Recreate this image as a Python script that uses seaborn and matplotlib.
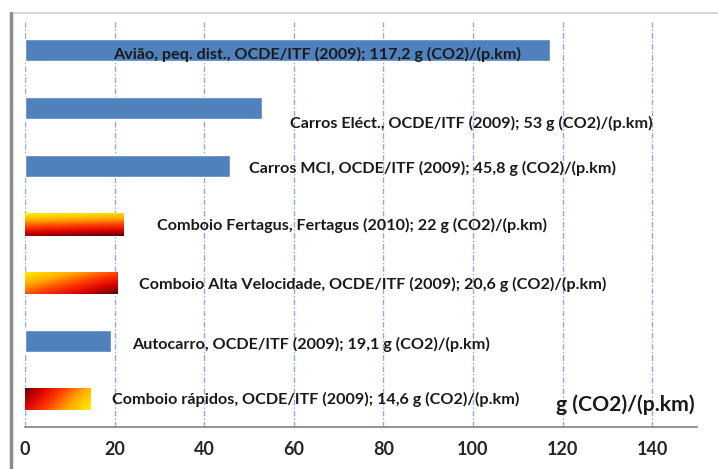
"""
Emissões de CO2 por modo de transporte, g (CO2)/(p.km)
"""
import numpy as np
import matplotlib
matplotlib.use("Agg")
import matplotlib.pyplot as plt
from matplotlib.colors import LinearSegmentedColormap
from matplotlib.lines import Line2D
import seaborn as sns

# Data (top to bottom)
modes = [
    "Avião, peq. dist.",
    "Carros Eléct.",
    "Carros MCI",
    "Comboio Fertagus",
    "Comboio Alta Velocidade",
    "Autocarro",
    "Comboio rápidos",
]
sources = ["OCDE/ITF (2009)", "OCDE/ITF (2009)", "OCDE/ITF (2009)", "Fertagus (2010)",
           "OCDE/ITF (2009)", "OCDE/ITF (2009)", "OCDE/ITF (2009)"]
emissions = [117.2, 53, 45.8, 22, 20.6, 19.1, 14.6]
unit = "g (CO2)/(p.km)"

# label placement (x centre in data units, y offset from bar centre)
label_x = [65.1, 99.7, 91.0, 73.0, 77.7, 63.8, 64.8]
label_dy = [0.07, 0.27, 0.03, 0.02, 0.03, 0.07, 0.0]

# fill style per bar: None = flat blue, otherwise gradient weights (horizontal, vertical, reversed)
gradients = [None, None, None, (0.1, 0.9, False), (0.5, 0.5, False), None, (0.75, 0.25, True)]

blue = "#4F81BD"
fire = LinearSegmentedColormap.from_list(
    "fire", [(0.0, "#FFF200"), (0.3, "#FFA800"), (0.55, "#FF3A00"),
             (0.78, "#D80000"), (1.0, "#5A0000")])

sns.set_style("white")
plt.rcParams["font.family"] = ["Lato", "DejaVu Sans"]

fig = plt.figure(figsize=(7.18, 4.69), dpi=100)
ax = fig.add_axes([25 / 718, 1 - 427 / 469, 672 / 718, 405 / 469])

sns.barplot(x=emissions, y=modes, hue=modes, palette=[blue] * len(modes),
            legend=False, orient="h", width=0.38, saturation=1, ax=ax)

# gradient fills for train bars
for cont, grad in zip(ax.containers, gradients):
    if grad is None:
        continue
    p = cont.patches[0]
    x0, y0, w, h = p.get_x(), p.get_y(), p.get_width(), p.get_height()
    u, v = np.meshgrid(np.linspace(0, 1, 200), np.linspace(0, 1, 40))
    t = grad[0] * u + grad[1] * v
    t = (t - t.min()) / (t.max() - t.min())
    if grad[2]:
        t = 1 - t
    im = ax.imshow(t, cmap=fire, extent=(x0, x0 + w, y0 + h, y0), origin="upper",
                   aspect="auto", zorder=p.get_zorder() + 0.1, interpolation="bilinear")
    im.set_clip_path(p)
ax.set_xlim(0, 150)
ax.set_ylim(6.48, -0.48)

# bar labels
for i, (m, s, e) in enumerate(zip(modes, sources, emissions)):
    val = f"{e:g}".replace(".", ",")
    ax.text(label_x[i], i + label_dy[i], f"{m}, {s}; {val} {unit}",
            ha="center", va="center", fontsize=11.6, fontweight="bold", color="#1a1a1a", zorder=5)

ax.text(133.9, 6.1, unit, ha="center", va="center", fontsize=15.3,
        fontweight="bold", color="#1a1a1a")

# axes styling
ax.set_yticks([])
ax.set_xticks(np.arange(0, 141, 20))
ax.set_xticks(np.arange(10, 151, 10), minor=True)
ax.tick_params(axis="x", which="major", direction="inout", length=8, width=1,
               color="#808080", labelsize=13, pad=6)
ax.tick_params(axis="x", which="minor", direction="in", length=4, width=1, color="#808080")
for lbl in ax.get_xticklabels():
    lbl.set_fontweight("bold")
ax.grid(True, axis="x", which="major", color="#8FAADC", linestyle=(0, (4, 1.5, 1, 1.5)),
        linewidth=1.0)
ax.set_axisbelow(True)
for side in ["top", "right", "left"]:
    ax.spines[side].set_visible(False)
ax.spines["bottom"].set_color("#808080")
ax.spines["bottom"].set_linewidth(1.2)

# chart frame (cut off at the right and bottom)
fig.add_artist(Line2D([10 / 718, 1.0], [1 - 13 / 469] * 2, color="#D0D0D0", lw=1.2))
fig.add_artist(Line2D([11 / 718] * 2, [0, 1 - 13 / 469], color="#8C8C8C", lw=2.5))

fig.savefig("out.png", dpi=100)
